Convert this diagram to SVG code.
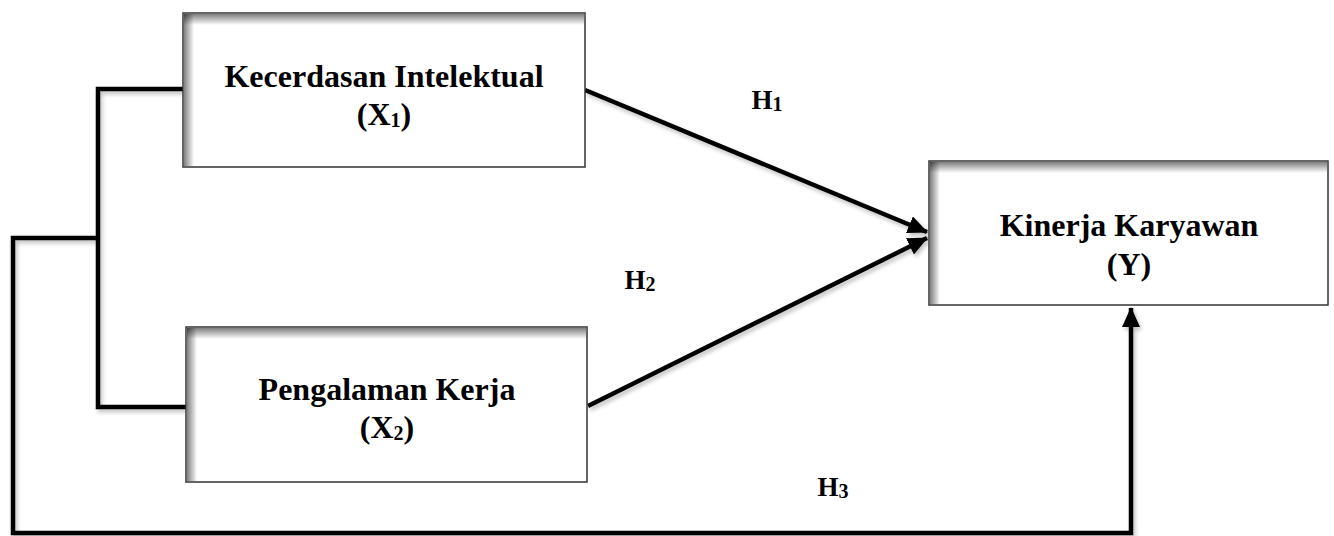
<svg xmlns="http://www.w3.org/2000/svg" width="1334" height="536" viewBox="0 0 1334 536">
<style>
.box{fill:#fff;stroke:#333;stroke-width:1.5}
.t{font-family:"Liberation Serif","Times New Roman",serif;font-weight:bold;fill:#000;text-anchor:middle}
.bt{font-size:32px}
.ht{font-size:27px}
.sub{font-size:20px}
.ln{fill:none;stroke:#000;stroke-width:4.5;stroke-linejoin:miter}
</style>
<defs>
<linearGradient id="gTop" x1="0" y1="0" x2="0" y2="1">
<stop offset="0" stop-color="#000" stop-opacity="0.5"/>
<stop offset="1" stop-color="#000" stop-opacity="0"/>
</linearGradient>
<linearGradient id="gLeft" x1="0" y1="0" x2="1" y2="0">
<stop offset="0" stop-color="#000" stop-opacity="0.5"/>
<stop offset="1" stop-color="#000" stop-opacity="0"/>
</linearGradient>
<filter id="sh" x="-5%" y="-5%" width="110%" height="110%">
<feGaussianBlur in="SourceAlpha" stdDeviation="2"/>
<feOffset dx="2" dy="3" result="b"/>
<feComponentTransfer><feFuncA type="linear" slope="0.25"/></feComponentTransfer>
<feMerge><feMergeNode/><feMergeNode in="SourceGraphic"/></feMerge>
</filter>
<marker id="ah" markerWidth="20" markerHeight="18" refX="19" refY="9" orient="auto" markerUnits="userSpaceOnUse">
<path d="M0,0 L20,9 L0,18 Z" fill="#000"/>
</marker>
</defs>

<g id="connectors" filter="url(#sh)">
<path class="ln" d="M183 89 H98 V407 H186"/>
<path class="ln" d="M98 238 H13 V533 H1131 V308" marker-end="url(#ah)"/>
<path class="ln" d="M585 90 L927 232" marker-end="url(#ah)"/>
<path class="ln" d="M588 406 L927 238" marker-end="url(#ah)"/>
</g>

<g id="node-x1">
<rect class="box" x="183" y="13" width="402" height="154"/>
<rect x="184" y="14" width="400" height="11" fill="url(#gTop)"/>
<rect x="184" y="14" width="10" height="152" fill="url(#gLeft)"/>
<text class="t bt" x="384" y="87">Kecerdasan Intelektual</text>
<text class="t bt" x="384" y="125">(X<tspan class="sub" dy="2">1</tspan><tspan dy="-2">)</tspan></text>
</g>

<g id="node-x2">
<rect class="box" x="186" y="327" width="401" height="155"/>
<rect x="187" y="328" width="399" height="11" fill="url(#gTop)"/>
<rect x="187" y="328" width="10" height="153" fill="url(#gLeft)"/>
<text class="t bt" x="387" y="400">Pengalaman Kerja</text>
<text class="t bt" x="387" y="438">(X<tspan class="sub" dy="2">2</tspan><tspan dy="-2">)</tspan></text>
</g>

<g id="node-y">
<rect class="box" x="929" y="161" width="399" height="144"/>
<rect x="930" y="162" width="397" height="11" fill="url(#gTop)"/>
<rect x="930" y="162" width="10" height="142" fill="url(#gLeft)"/>
<text class="t bt" x="1129" y="236">Kinerja Karyawan</text>
<text class="t bt" x="1129" y="275">(Y)</text>
</g>

<g id="labels">
<text class="t ht" x="767" y="109">H<tspan class="sub" dy="2">1</tspan></text>
<text class="t ht" x="640" y="289">H<tspan class="sub" dy="2">2</tspan></text>
<text class="t ht" x="833" y="496">H<tspan class="sub" dy="2">3</tspan></text>
</g>
</svg>
